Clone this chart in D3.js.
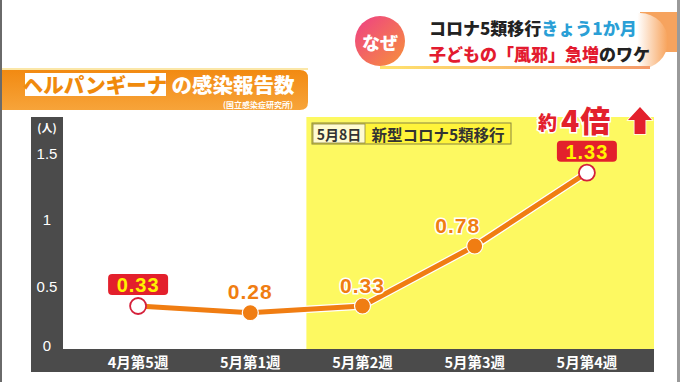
<!DOCTYPE html>
<html><head><meta charset="utf-8">
<script src="https://cdn.jsdelivr.net/npm/d3@7"></script>
<style>
html,body{margin:0;padding:0;background:#fff;}
svg{display:block;}
text{font-family:"Noto Sans CJK JP","Noto Sans",sans-serif;}
</style></head>
<body>
<svg id="chart" width="680" height="382"></svg>
<script>
// ---- data ----
const categories = ["4月第5週","5月第1週","5月第2週","5月第3週","5月第4週"];
const values = [0.33, 0.28, 0.33, 0.78, 1.33];
const highlightIdx = [0, 4];             // points shown with red boxes
const yTicks = [0, 0.5, 1, 1.5];
const yTickLabels = ["0", "0.5", "1", "1.5"];
const yUnit = "(人)";
const titleLine1 = [["コロナ5類移行", "#222"], ["きょう1か月", "#2a9fd6"]];
const titleLine2 = [["子どもの「風邪」急増", "#e31b2f"], ["のワケ", "#222"]];
const badge = "なぜ";
const subTitleA = "ヘルパンギーナ";
const subTitleB = "の感染報告数";
const source = "(国立感染症研究所)";
const eventDate = "5月8日";
const eventText = "新型コロナ5類移行";
const shiftStart = "5月第2週";
const growthA = "約", growthB = "4倍";

const svg = d3.select("#chart");
const defs = svg.append("defs");

// geometry
const panel = {left: 31, right: 654, top: 117, axisW: 32, plotBottom: 349, bottom: 372};
const x = d3.scalePoint().domain(categories).range([82, 643]).padding(0.5);
const y = d3.scaleLinear().domain([0, 1.5]).range([350, 150]);

// borders
svg.append("rect").attr("x",0).attr("y",0).attr("width",2).attr("height",382).attr("fill","#6a6a6a");
svg.append("rect").attr("x",677).attr("y",0).attr("width",3).attr("height",382).attr("fill","#9a9a9a");

// ---- top title pill ----
const pg = defs.append("linearGradient").attr("id","pillg").attr("x1","0").attr("x2","1");
pg.append("stop").attr("offset","0").attr("stop-color","#ffffff");
pg.append("stop").attr("offset","0.9").attr("stop-color","#ffffff");
pg.append("stop").attr("offset","1").attr("stop-color","#f7a25a");
const ug = defs.append("linearGradient").attr("id","underg").attr("x1","0").attr("x2","1");
ug.append("stop").attr("offset","0").attr("stop-color","#ffe36e");
ug.append("stop").attr("offset","1").attr("stop-color","#f59a6a");
svg.append("rect").attr("x",640).attr("y",12).attr("width",37).attr("height",40).attr("fill","#f6a35e");
svg.append("rect").attr("x",362).attr("y",13).attr("width",306).attr("height",56).attr("rx",28).attr("fill","url(#pillg)");
svg.append("rect").attr("x",380).attr("y",66).attr("width",270).attr("height",3).attr("fill","url(#underg)");
const cg = defs.append("linearGradient").attr("id","circg").attr("x1","0").attr("y1","0").attr("x2","1").attr("y2","1");
cg.append("stop").attr("offset","0").attr("stop-color","#ee3f86");
cg.append("stop").attr("offset","1").attr("stop-color","#f7923a");
svg.append("circle").attr("cx",380).attr("cy",41).attr("r",25).attr("fill","url(#circg)");
svg.append("text").attr("x",380).attr("y",42).attr("text-anchor","middle").attr("dominant-baseline","central")
  .attr("fill","#fff").attr("font-size",18).attr("font-weight",900).text(badge);
function richLine(parts, yy){
  const t = svg.append("text").attr("x",429).attr("y",yy).attr("font-size",17).attr("font-weight",900)
    .attr("dominant-baseline","central");
  parts.forEach(p => t.append("tspan").attr("fill",p[1]).text(p[0]));
}
richLine(titleLine1, 27);
richLine(titleLine2, 53);

// ---- orange header band ----
const og = defs.append("linearGradient").attr("id","orangeg").attr("x1","0").attr("y1","0").attr("x2","0").attr("y2","1");
og.append("stop").attr("offset","0").attr("stop-color","#f28a12");
og.append("stop").attr("offset","1").attr("stop-color","#f7a43a");
svg.append("rect").attr("x",2).attr("y",68).attr("width",306).attr("height",2).attr("fill","#fbe7a8");
svg.append("path").attr("d", "M2,70 H300 Q308,70 308,78 V102 Q308,110 300,110 H2 Z").attr("fill","url(#orangeg)");
svg.append("rect").attr("x",25).attr("y",73).attr("width",141).attr("height",23).attr("fill","#fff");
svg.append("text").attr("x",95).attr("y",84).attr("text-anchor","middle").attr("dominant-baseline","central")
  .attr("fill","#f08a0c").attr("font-size",20.5).attr("font-weight",900).text(subTitleA);
svg.append("text").attr("x",233).attr("y",84).attr("text-anchor","middle").attr("dominant-baseline","central")
  .attr("fill","#fff").attr("font-size",20.5).attr("font-weight",900).text(subTitleB);
svg.append("text").attr("x",258).attr("y",104).attr("text-anchor","middle").attr("dominant-baseline","central")
  .attr("fill","#fff").attr("font-size",8).attr("font-weight",700).text(source);

// ---- plot panel ----
svg.append("rect").attr("x",x(shiftStart) - x.step()/2).attr("y",panel.top)
  .attr("width",panel.right - (x(shiftStart) - x.step()/2)).attr("height",panel.plotBottom - panel.top)
  .attr("fill","#fdf961");
// left axis bar
svg.append("rect").attr("x",panel.left).attr("y",panel.top).attr("width",panel.axisW)
  .attr("height",panel.bottom - panel.top).attr("fill","#4b4b4b");
// bottom axis bar
svg.append("rect").attr("x",panel.left).attr("y",panel.plotBottom).attr("width",panel.right - panel.left)
  .attr("height",panel.bottom - panel.plotBottom).attr("fill","#4b4b4b");

// y axis labels
svg.append("text").attr("x",47).attr("y",127).attr("text-anchor","middle").attr("dominant-baseline","central")
  .attr("fill","#fff").attr("font-size",11).attr("font-weight",700).text(yUnit);
svg.selectAll(".ytick").data(yTicks).join("text").attr("class","ytick")
  .attr("x",47).attr("y",d => d === 0 ? y(d) - 5 : y(d) + 3)
  .attr("text-anchor","middle").attr("dominant-baseline","central")
  .style("font-family","'Liberation Sans',Arial,sans-serif")
  .attr("fill","#fff").attr("font-size",15).text((d,i) => yTickLabels[i]);

// x axis labels
svg.selectAll(".xtick").data(categories).join("text").attr("class","xtick")
  .attr("x",d => x(d)).attr("y",361).attr("text-anchor","middle").attr("dominant-baseline","central")
  .attr("fill","#fff").attr("font-size",14.5).attr("font-weight",700).text(d => d);

// event box
const eb = svg.append("g");
eb.append("rect").attr("x",312).attr("y",123).attr("width",199).attr("height",21).attr("fill","#fff43a")
  .attr("stroke","#8a8640").attr("stroke-width",1);
eb.append("rect").attr("x",313).attr("y",124).attr("width",52).attr("height",19).attr("fill","#fffbd0")
  .attr("stroke","#8a8640").attr("stroke-width",0.8);
eb.append("text").attr("x",339).attr("y",133.5).attr("text-anchor","middle").attr("dominant-baseline","central")
  .attr("fill","#333").attr("font-size",14).attr("font-weight",700).text(eventDate);
eb.append("text").attr("x",438).attr("y",133.5).attr("text-anchor","middle").attr("dominant-baseline","central")
  .attr("fill","#333").attr("font-size",15.5).attr("font-weight",700).text(eventText);

// line
const line = d3.line().x((d,i) => x(categories[i])).y(d => y(d));
svg.append("path").datum(values).attr("d", line).attr("fill","none")
  .attr("stroke","#fff").attr("stroke-width",7.5).attr("stroke-linejoin","round");
svg.append("path").datum(values).attr("d", line).attr("fill","none")
  .attr("stroke","#f07d12").attr("stroke-width",5).attr("stroke-linejoin","round");

// points
svg.selectAll(".pt").data(values).join("circle").attr("class","pt")
  .attr("cx",(d,i) => x(categories[i])).attr("cy",d => y(d)).attr("r",8)
  .attr("fill",(d,i) => highlightIdx.includes(i) ? "#fff" : "#f07d12")
  .attr("stroke",(d,i) => highlightIdx.includes(i) ? "#d5203a" : "#fff")
  .attr("stroke-width",(d,i) => highlightIdx.includes(i) ? 1.8 : 1.2);

// value labels
values.forEach((v,i) => {
  const cx = x(categories[i]), cy = y(v);
  const lab = v.toFixed(2);
  if (highlightIdx.includes(i)) {
    svg.append("rect").attr("x",cx - 30).attr("y",cy - 32).attr("width",60).attr("height",21).attr("rx",4)
      .attr("fill","#e3202c");
    svg.append("text").attr("x",cx).attr("y",cy - 21).attr("text-anchor","middle").attr("dominant-baseline","central")
      .style("font-family","'Liberation Sans',Arial,sans-serif").attr("font-weight",700)
      .attr("font-size",20).attr("letter-spacing",1).attr("fill","#fff200").text(lab);
  } else {
    const dx = i === 3 ? -17 : 0;
    svg.append("text").attr("x",cx + dx).attr("y",cy - 21).attr("text-anchor","middle").attr("dominant-baseline","central")
      .style("font-family","'Liberation Sans',Arial,sans-serif").attr("font-weight",700)
      .attr("font-size",21).attr("letter-spacing",1).attr("fill","#f07d12")
      .attr("stroke","#fff").attr("stroke-width",3).attr("paint-order","stroke").text(lab);
  }
});

// growth annotation
const ga = svg.append("text").attr("y",119).attr("dominant-baseline","central").attr("fill","#e3202c")
  .attr("stroke","#fff").attr("stroke-width",3).attr("paint-order","stroke").attr("font-weight",900);
ga.append("tspan").attr("x",538).attr("font-size",19).attr("dy",2).text(growthA);
ga.append("tspan").attr("font-size",30).attr("dx",4).attr("dy",-2).attr("letter-spacing",1).text(growthB);
svg.append("path").attr("d","M640,107 L652,120 L645.5,120 L645.5,134 L634.5,134 L634.5,120 L628,120 Z")
  .attr("fill","#e3202c").attr("stroke","#fff").attr("stroke-width",1.5).attr("paint-order","stroke");
</script>
</body></html>
